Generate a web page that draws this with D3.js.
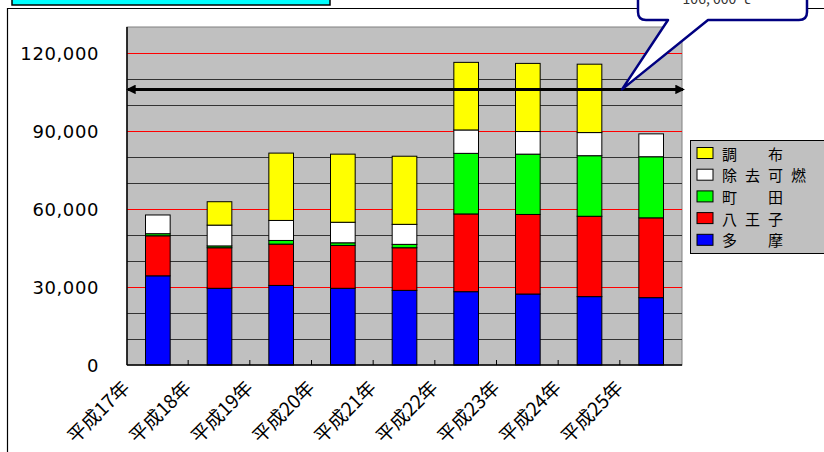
<!DOCTYPE html>
<html>
<head>
<meta charset="utf-8">
<script src="https://cdn.jsdelivr.net/npm/d3@7"></script>
<style>
  body { margin: 0; background: #fff; }
  text { font-family: "Noto Sans CJK JP", "DejaVu Sans", sans-serif; }
</style>
</head>
<body>
<div id="chart"></div>
<script>
// data
var years = ["平成17年","平成18年","平成19年","平成20年","平成21年","平成22年","平成23年","平成24年","平成25年"];
var tama      = [34300, 29500, 30600, 29500, 28700, 28200, 27300, 26300, 25900];
var hachioji  = [15400, 15600, 15900, 16500, 16400, 29900, 30600, 30900, 30700];
var machida   = [800, 700, 1400, 1000, 1300, 23300, 23200, 23300, 23500];
var jokyo     = [7200, 8000, 7700, 7900, 7700, 9000, 8700, 8900, 8800];
var chofu     = [0, 9000, 25900, 26200, 26200, 26000, 26200, 26300, 0];
var seriesNames = ["多　摩", "八王子", "町　田", "除去可燃", "調　布"];
var seriesColors = ["#0000ff", "#ff0000", "#00ff00", "#ffffff", "#ffff00"];
var yTicks = [0, 30000, 60000, 90000, 120000];
var limitValue = 106000;
var limitLabel = "106, 000 ｔ";

var W = 824, H = 452;
var plot = {left: 127, top: 27, right: 682, bottom: 365};

var svg = d3.select("#chart").append("svg")
  .attr("width", W).attr("height", H);

// outer chart border
svg.append("path")
  .attr("d", "M7.5," + H + " L7.5,8.5 L" + W + ",8.5")
  .attr("fill", "none").attr("stroke", "#000").attr("stroke-width", 1.2);

// title box (cut off at the top)
svg.append("rect")
  .attr("x", 12).attr("y", -12).attr("width", 318).attr("height", 17)
  .attr("fill", "#00ffff").attr("stroke", "#000").attr("stroke-width", 1.5);

var x = d3.scaleBand()
  .domain(years)
  .range([plot.left, plot.right])
  .paddingInner(0.6).paddingOuter(0.3);

var y = d3.scaleLinear()
  .domain([0, 130000])
  .range([plot.bottom, plot.top]);

// plot background
svg.append("rect")
  .attr("x", plot.left).attr("y", plot.top)
  .attr("width", plot.right - plot.left).attr("height", plot.bottom - plot.top)
  .attr("fill", "#c0c0c0").attr("stroke", "#808080").attr("stroke-width", 1);

// gridlines every 10,000, red on every 30,000
var grid = d3.range(10000, 130000, 10000);
svg.append("g").selectAll("line")
  .data(grid)
  .join("line")
    .attr("x1", plot.left).attr("x2", plot.right)
    .attr("y1", function(d) { return Math.round(y(d)) + 0.5; })
    .attr("y2", function(d) { return Math.round(y(d)) + 0.5; })
    .attr("stroke", function(d) { return d % 30000 == 0 ? "#ff0000" : "#333"; })
    .attr("stroke-width", 1);

// stacked bars
var rows = years.map(function(yr, i) {
  return {year: yr, s0: tama[i], s1: hachioji[i], s2: machida[i], s3: jokyo[i], s4: chofu[i]};
});
var stack = d3.stack().keys(["s0", "s1", "s2", "s3", "s4"])(rows);

svg.append("g").selectAll("g")
  .data(stack)
  .join("g")
    .attr("fill", function(d, i) { return seriesColors[i]; })
  .selectAll("rect")
  .data(function(d) { return d.filter(function(p) { return p[1] - p[0] > 0; }); })
  .join("rect")
    .attr("x", function(d) { return x(d.data.year); })
    .attr("width", x.bandwidth())
    .attr("y", function(d) { return y(d[1]); })
    .attr("height", function(d) { return y(d[0]) - y(d[1]); })
    .attr("stroke", "#000").attr("stroke-width", 1);

// axes lines
svg.append("line")
  .attr("x1", plot.left).attr("x2", plot.left)
  .attr("y1", plot.top).attr("y2", plot.bottom)
  .attr("stroke", "#000").attr("stroke-width", 1.5);
svg.append("line")
  .attr("x1", plot.left).attr("x2", plot.right)
  .attr("y1", plot.bottom).attr("y2", plot.bottom)
  .attr("stroke", "#000").attr("stroke-width", 1.5);

// small inside ticks between categories
var step = x.step();
svg.append("g").selectAll("line")
  .data(years.slice(1))
  .join("line")
    .attr("x1", function(d) { return x(d) - step * 0.3 - 0.5; })
    .attr("x2", function(d) { return x(d) - step * 0.3 - 0.5; })
    .attr("y1", plot.bottom).attr("y2", plot.bottom - 5)
    .attr("stroke", "#000");

// y labels
svg.append("g").selectAll("text")
  .data(yTicks)
  .join("text")
    .attr("x", 99)
    .attr("y", function(d) { return y(d); })
    .attr("text-anchor", "end")
    .attr("dominant-baseline", "central")
    .style("font-family", "'DejaVu Sans', sans-serif")
    .style("font-size", "18px")
    .style("letter-spacing", "0.6px")
    .text(function(d) { return d3.format(",")(d); });

// x labels, rotated
svg.append("g").selectAll("text")
  .data(years)
  .join("text")
    .attr("transform", function(d) {
      var cx = x(d) + x.bandwidth() / 2 - 27;
      return "translate(" + cx + ",389) rotate(-45)";
    })
    .attr("text-anchor", "end")
    .style("font-size", "19px")
    .text(function(d) { return d; });

// limit line with arrows on both ends
var defs = svg.append("defs");
defs.append("marker")
  .attr("id", "arr").attr("viewBox", "0 0 10 10")
  .attr("refX", 8).attr("refY", 5)
  .attr("markerWidth", 3.2).attr("markerHeight", 3.2)
  .attr("orient", "auto-start-reverse")
  .append("path").attr("d", "M0,0 L10,5 L0,10 Z").attr("fill", "#000");

svg.append("line")
  .attr("x1", plot.left + 1).attr("x2", plot.right + 1)
  .attr("y1", y(limitValue)).attr("y2", y(limitValue))
  .attr("stroke", "#000").attr("stroke-width", 3)
  .attr("marker-start", "url(#arr)")
  .attr("marker-end", "url(#arr)");

// callout bubble
var tipY = y(limitValue);
svg.append("path")
  .attr("d", "M638,-20 L638,12 Q638,20 646,20 L668,20 L622," + tipY +
             " L708,20 L799,20 Q807,20 807,12 L807,-20 Z")
  .attr("fill", "#fff").attr("stroke", "#000080").attr("stroke-width", 2.5)
  .attr("stroke-linejoin", "round");
svg.append("text")
  .attr("x", 718).attr("y", 4)
  .attr("text-anchor", "middle")
  .style("font-size", "14px")
  .attr("fill", "#333")
  .text(limitLabel);

// legend
var legend = svg.append("g");
legend.append("rect")
  .attr("x", 690.5).attr("y", 140.5).attr("width", 150).attr("height", 113)
  .attr("fill", "#c0c0c0").attr("stroke", "#000").attr("stroke-width", 1);
var order = [4, 3, 2, 1, 0];
var items = legend.selectAll("g.item")
  .data(order)
  .join("g")
    .attr("class", "item")
    .attr("transform", function(d, i) { return "translate(0," + (153 + i * 21.7) + ")"; });
items.append("rect")
  .attr("x", 697).attr("y", -5.5).attr("width", 16).attr("height", 11)
  .attr("fill", function(d) { return seriesColors[d]; })
  .attr("stroke", "#000").attr("stroke-width", 1);
items.append("text")
  .attr("x", 722).attr("y", 0)
  .attr("dominant-baseline", "central")
  .style("font-size", "15px")
  .style("letter-spacing", "8px")
  .text(function(d) { return seriesNames[d]; });
</script>
</body>
</html>
